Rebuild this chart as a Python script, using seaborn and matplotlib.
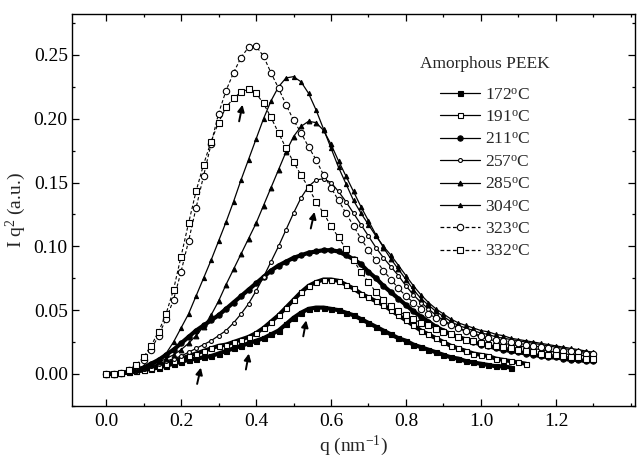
import numpy as np
import pandas as pd
import matplotlib
matplotlib.use("Agg")
import matplotlib.pyplot as plt
import seaborn as sns
from matplotlib.ticker import MultipleLocator, FixedLocator

# ---------------- data ----------------
TEMPS = ["172", "191", "211", "257", "285", "304", "323", "332"]

I172 = [0, 0.0002, 0.0006, 0.0012, 0.002, 0.003, 0.004, 0.005, 0.0065, 0.008,
        0.0095, 0.011, 0.012, 0.013, 0.014, 0.016, 0.018, 0.020, 0.022, 0.024,
        0.026, 0.028, 0.031, 0.034, 0.039, 0.044, 0.048, 0.051, 0.052, 0.052,
        0.051, 0.050, 0.048, 0.046, 0.043, 0.040, 0.037, 0.034, 0.031, 0.028,
        0.026, 0.023, 0.021, 0.019, 0.017, 0.015, 0.013, 0.012, 0.010, 0.009,
        0.008, 0.007, 0.006, 0.006, 0.005]
I191 = [0, 0.0002, 0.0006, 0.0012, 0.002, 0.003, 0.0045, 0.006, 0.008, 0.010,
        0.012, 0.014, 0.016, 0.018, 0.020, 0.022, 0.023, 0.025, 0.027, 0.029,
        0.032, 0.036, 0.041, 0.046, 0.052, 0.058, 0.064, 0.069, 0.072, 0.074,
        0.074, 0.073, 0.070, 0.067, 0.063, 0.060, 0.057, 0.054, 0.050, 0.046,
        0.042, 0.038, 0.034, 0.031, 0.028, 0.025, 0.022, 0.020, 0.018, 0.016,
        0.015, 0.014, 0.012, 0.011, 0.010, 0.009, 0.008]
I211 = [0, 0.0002, 0.0007, 0.0015, 0.003, 0.005, 0.008, 0.011, 0.015, 0.019,
        0.024, 0.029, 0.034, 0.038, 0.042, 0.046, 0.051, 0.056, 0.061, 0.066,
        0.071, 0.076, 0.081, 0.085, 0.088, 0.091, 0.093, 0.095, 0.096, 0.097,
        0.097, 0.096, 0.093, 0.090, 0.086, 0.080, 0.075, 0.069, 0.064, 0.059,
        0.054, 0.049, 0.045, 0.041, 0.037, 0.034, 0.031, 0.029, 0.027, 0.025,
        0.023, 0.022, 0.020, 0.019, 0.018, 0.017, 0.016, 0.015, 0.014, 0.013,
        0.013, 0.012, 0.011, 0.011, 0.010, 0.010]
I257 = [0, 0.0002, 0.0006, 0.0013, 0.0025, 0.004, 0.006, 0.008, 0.010, 0.012,
        0.014, 0.017, 0.020, 0.023, 0.026, 0.030, 0.034, 0.040, 0.047, 0.055,
        0.065, 0.076, 0.088, 0.100, 0.113, 0.126, 0.138, 0.147, 0.152, 0.153,
        0.150, 0.143, 0.135, 0.126, 0.117, 0.108, 0.099, 0.091, 0.084, 0.077,
        0.069, 0.062, 0.056, 0.051, 0.046, 0.042, 0.039, 0.036, 0.033, 0.031,
        0.029, 0.027, 0.026, 0.024, 0.023, 0.022, 0.021, 0.020, 0.019, 0.018,
        0.017, 0.016, 0.015, 0.015, 0.014, 0.013]
I285 = [0, 0.0002, 0.0007, 0.0015, 0.003, 0.005, 0.007, 0.009, 0.012, 0.015,
        0.019, 0.024, 0.030, 0.037, 0.046, 0.057, 0.070, 0.082, 0.094, 0.106,
        0.118, 0.132, 0.146, 0.160, 0.174, 0.186, 0.194, 0.198, 0.197, 0.191,
        0.180, 0.167, 0.155, 0.143, 0.131, 0.120, 0.109, 0.099, 0.090, 0.082,
        0.074, 0.066, 0.059, 0.054, 0.049, 0.045, 0.041, 0.038, 0.036, 0.034,
        0.032, 0.031, 0.029, 0.028, 0.027, 0.026, 0.025, 0.024, 0.023, 0.022,
        0.021, 0.020, 0.019, 0.018, 0.017, 0.016]
I304 = [0, 0.0002, 0.0008, 0.002, 0.004, 0.006, 0.008, 0.011, 0.016, 0.025,
        0.036, 0.047, 0.061, 0.075, 0.089, 0.104, 0.119, 0.135, 0.152, 0.168,
        0.184, 0.200, 0.214, 0.225, 0.232, 0.233, 0.229, 0.220, 0.207, 0.192,
        0.177, 0.162, 0.149, 0.136, 0.126, 0.117, 0.108, 0.100, 0.093, 0.085,
        0.077, 0.069, 0.062, 0.056, 0.051, 0.047, 0.043, 0.040, 0.038, 0.036,
        0.034, 0.033, 0.031, 0.030, 0.028, 0.027, 0.026, 0.025, 0.024, 0.023,
        0.022, 0.021, 0.020, 0.019, 0.018, 0.017]
I323 = [0, 0.0003, 0.001, 0.003, 0.006, 0.011, 0.019, 0.030, 0.043, 0.058,
        0.080, 0.104, 0.130, 0.155, 0.180, 0.204, 0.222, 0.236, 0.248, 0.256,
        0.257, 0.249, 0.236, 0.224, 0.211, 0.199, 0.189, 0.178, 0.168, 0.156,
        0.146, 0.136, 0.126, 0.116, 0.106, 0.097, 0.089, 0.081, 0.074, 0.067,
        0.061, 0.056, 0.051, 0.047, 0.044, 0.041, 0.038, 0.036, 0.034, 0.032,
        0.030, 0.028, 0.027, 0.026, 0.025, 0.024, 0.023, 0.022, 0.021, 0.020,
        0.019, 0.018, 0.018, 0.017, 0.016, 0.016]
I332 = [0, 0.0003, 0.001, 0.003, 0.007, 0.013, 0.022, 0.033, 0.047, 0.066,
        0.092, 0.118, 0.143, 0.164, 0.182, 0.197, 0.209, 0.216, 0.221, 0.223,
        0.220, 0.212, 0.201, 0.189, 0.177, 0.166, 0.156, 0.146, 0.135, 0.126,
        0.116, 0.107, 0.098, 0.089, 0.080, 0.072, 0.064, 0.058, 0.053, 0.049,
        0.046, 0.043, 0.040, 0.038, 0.035, 0.033, 0.031, 0.029, 0.027, 0.026,
        0.024, 0.023, 0.022, 0.021, 0.020, 0.019, 0.018, 0.017, 0.016, 0.015,
        0.015, 0.014, 0.013, 0.013, 0.012, 0.012]
SERIES = [I172, I191, I211, I257, I285, I304, I323, I332]
Q_STEP = 0.02   # q spacing of the sampled points (nm^-1)
X_TICKS = [0.0, 0.2, 0.4, 0.6, 0.8, 1.0, 1.2]

# arrows marking shoulders / peaks: (tip, tail) in data units
ARROWS = [((0.253, 0.0050), (0.243, -0.0078)),
          ((0.381, 0.0160), (0.373, 0.0035)),
          ((0.534, 0.0420), (0.526, 0.0295)),
          ((0.556, 0.1270), (0.546, 0.1140)),
          ((0.364, 0.2110), (0.355, 0.1980))]

# ---------------- long-form table ----------------
rows = []
for t, vals in zip(TEMPS, SERIES):
    for i, v in enumerate(vals):
        rows.append({"T": t, "q": round(i * Q_STEP, 2), "I": v})
df = pd.DataFrame(rows)

# ---------------- style ----------------
sns.set_style("ticks")
plt.rcParams["font.family"] = ["Liberation Serif", "DejaVu Serif"]
plt.rcParams["mathtext.fontset"] = "custom"
plt.rcParams["mathtext.rm"] = "Liberation Serif"
plt.rcParams["mathtext.it"] = "Liberation Serif:italic"
plt.rcParams["mathtext.bf"] = "Liberation Serif:bold"

STYLE = {
    "172": dict(marker="s", ms=3.6, mfc="black", lw=3.0, ls="-"),
    "191": dict(marker="s", ms=3.6, mfc="white", lw=3.0, ls="-"),
    "211": dict(marker="o", ms=3.8, mfc="black", lw=3.0, ls="-"),
    "257": dict(marker="o", ms=2.8, mfc="white", lw=0.9, ls="-"),
    "285": dict(marker="^", ms=3.4, mfc="black", lw=0.9, ls="-"),
    "304": dict(marker="^", ms=3.0, mfc="black", lw=0.9, ls="-"),
    "323": dict(marker="o", ms=4.6, mfc="white", lw=0.8, ls=(0, (3, 2))),
    "332": dict(marker="s", ms=4.6, mfc="white", lw=0.8, ls=(0, (3, 2))),
}

fig = plt.figure(figsize=(6.37, 4.58), dpi=100)
ax = fig.add_axes([72 / 637, 1 - 406 / 458, 563 / 637, 392 / 458])

for t in TEMPS:
    st = STYLE[t]
    sub = df[df["T"] == t]
    sns.lineplot(data=sub, x="q", y="I", ax=ax, color="black",
                 estimator=None, errorbar=None, sort=False,
                 marker=st["marker"], markersize=st["ms"],
                 markerfacecolor=st["mfc"], markeredgecolor="black",
                 markeredgewidth=0.8, linewidth=st["lw"], linestyle=st["ls"],
                 label=t + r"$^{\rm o}$C")

for tip, tail in ARROWS:
    ax.annotate("", xy=tip, xytext=tail,
                arrowprops=dict(arrowstyle="-|>", color="black", lw=1.4,
                                mutation_scale=10, shrinkA=0, shrinkB=0))

ax.set_xlim(-0.0907, 1.4107)
ax.set_ylim(-0.0251, 0.2821)
ax.xaxis.set_major_locator(FixedLocator(X_TICKS))
ax.xaxis.set_minor_locator(MultipleLocator(0.1))
ax.yaxis.set_major_locator(MultipleLocator(0.05))
ax.yaxis.set_minor_locator(MultipleLocator(0.025))
ax.xaxis.set_major_formatter(plt.FormatStrFormatter("%.1f"))
ax.yaxis.set_major_formatter(plt.FormatStrFormatter("%.2f"))
ax.tick_params(which="both", direction="in", top=True, right=True,
               width=0.9, labelsize=14, colors="black")
ax.tick_params(axis="y", which="both", pad=3)
ax.tick_params(axis="x", which="both", pad=5)
ax.tick_params(which="major", length=5)
ax.tick_params(which="minor", length=2.5)
for s in ax.spines.values():
    s.set_linewidth(1.0)
    s.set_color("black")

ax.set_xlabel(r"q (nm$^{-1}$)", fontsize=14, labelpad=3)
ax.set_ylabel(r"I q$^{2}$ (a.u.)", fontsize=14, labelpad=4)

handles, labels = ax.get_legend_handles_labels()
leg = ax.legend(handles, labels, title="Amorphous PEEK", frameon=False,
                loc="upper center", bbox_to_anchor=(485 / 637, 1 - 47 / 458),
                bbox_transform=fig.transFigure, fontsize=12.5,
                title_fontsize=12.5, handlelength=2.3, handletextpad=0.3,
                labelspacing=0.36, borderpad=0, numpoints=1)
leg._legend_box.sep = 11
for ln in leg.get_lines():
    ln.set_linewidth(0.9)

fig.savefig("out.png", dpi=100)
